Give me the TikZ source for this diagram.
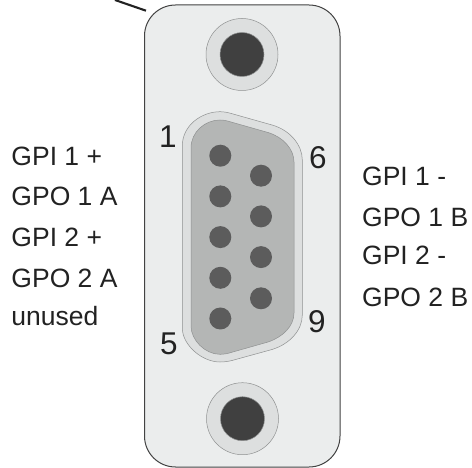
\documentclass[tikz,border=0pt]{standalone}
\usepackage{fontspec}
\setmainfont{Liberation Sans}
\definecolor{plate}{HTML}{EBEDED}
\definecolor{ring}{HTML}{DDDFDF}
\definecolor{ringedge}{HTML}{8F9191}
\definecolor{hole}{HTML}{404040}
\definecolor{shell}{HTML}{B4B6B5}
\definecolor{pinc}{HTML}{5C5C5C}
\definecolor{ink}{HTML}{222222}
\tikzset{
  x=1pt,y=-1pt,
  lab/.style={font=\fontsize{26.5}{30}\selectfont,text=ink,anchor=base west,inner sep=0pt},
  num/.style={font=\fontsize{31.5}{34}\selectfont,text=ink,anchor=base,inner sep=0pt},
  pin/.style={circle,fill=pinc,minimum size=22pt,inner sep=0pt,draw=none},
  screwring/.style={circle,fill=ring,draw=ringedge,line width=0.5pt,minimum size=72pt,inner sep=0pt},
  screwhole/.style={circle,fill=hole,draw=ringedge,line width=0.5pt,minimum size=44pt,inner sep=0pt},
}
\begin{document}
\begin{tikzpicture}
\useasboundingbox (0,0) rectangle (472,468);
\draw[fill=plate,draw=ink!85,line width=1pt,rounded corners=31pt] (144.5,5) rectangle (340,467);
\coordinate (leadA) at (115,0);
\coordinate (leadB) at (146,10.7);
\draw[ink,line width=2.1pt] (leadA) -- (leadB);
\node[screwring] (ringT) at (242,54.5) {};
\node[screwhole] (holeT) at (242,54.5) {};
\node[screwring] (ringB) at (242.5,418.7) {};
\node[screwhole] (holeB) at (242.5,418.7) {};
% shell outer
\draw[fill=ring,draw=ringedge,line width=0.5pt]
  (182.3,146) .. controls (182.3,125) and (202,111.7) .. (220,111.7)
  .. controls (224,111.7) and (228,112.5) .. (232,113.7)
  -- (272,125) .. controls (290,130) and (302.3,145) .. (302.3,160)
  -- (302.3,315) .. controls (302.3,330) and (290,344) .. (272,349.5)
  -- (232,360.5) .. controls (228,361.5) and (224,362) .. (220,362)
  .. controls (202,362) and (182.3,345) .. (182.3,328) -- cycle;
% shell inner
\draw[fill=shell,draw=ringedge,line width=0.5pt]
  (191,148) .. controls (191,132) and (205,120) .. (220,120)
  .. controls (224,120) and (228,121) .. (231,122)
  -- (268,132.5) .. controls (283,137) and (294,149) .. (294,162)
  -- (294,313) .. controls (294,326) and (283,337) .. (268,342)
  -- (231,352.5) .. controls (228,353.5) and (224,354.3) .. (220,354.3)
  .. controls (205,354.3) and (191,340) .. (191,326) -- cycle;
\foreach \n/\y in {1/155.7,2/196.4,3/237.1,4/277.8,5/318.5}
  \node[pin] (p\n) at (220.3,\y) {};
\foreach \n/\y in {6/175.7,7/216.4,8/257.1,9/298.3}
  \node[pin] (p\n) at (261,\y) {};
\node[num] (n1) at (168,147.7) {1};
\node[num] (n6) at (318,168.3) {6};
\node[num] (n5) at (169,355) {5};
\node[num] (n9) at (317,333) {9};
\node[lab] (l1) at (11.3,166) {GPI 1 +};
\node[lab] (l2) at (11.3,206) {GPO 1 A};
\node[lab] (l3) at (11.3,246.7) {GPI 2 +};
\node[lab] (l4) at (11.3,287.7) {GPO 2 A};
\node[lab] (l5) at (11.3,326) {unused};
\node[lab] (r1) at (362,186) {GPI 1 -};
\node[lab] (r2) at (362,226.7) {GPO 1 B};
\node[lab] (r3) at (362,265) {GPI 2 -};
\node[lab] (r4) at (362,307) {GPO 2 B};
\end{tikzpicture}
\end{document}
